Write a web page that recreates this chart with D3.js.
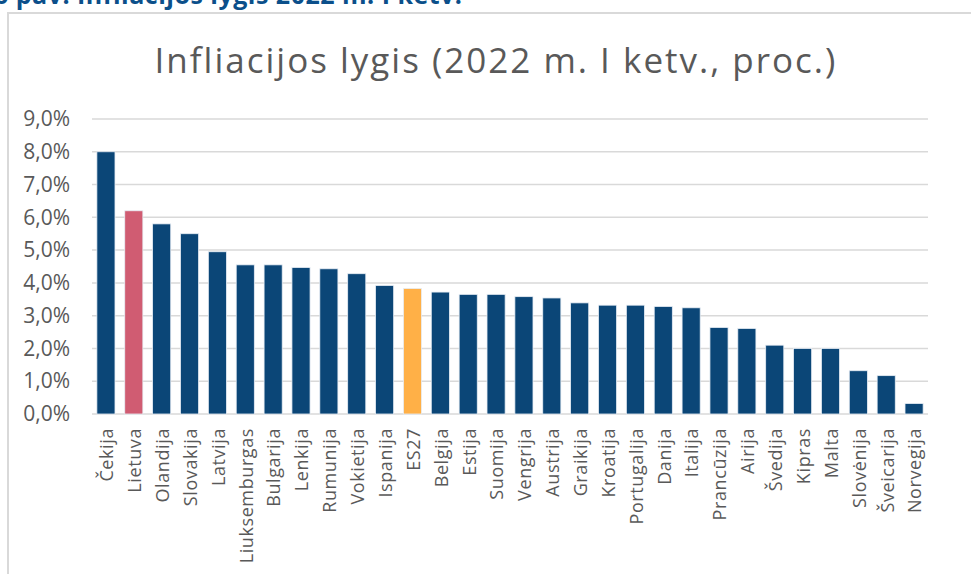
<!DOCTYPE html>
<html>
<head>
<meta charset="utf-8">
<script src="https://cdn.jsdelivr.net/npm/d3@7"></script>
<style>
  body { margin: 0; background: #fff; }
  svg text { font-family: "Open Sans", Lato, sans-serif; }
</style>
</head>
<body>
<svg id="chart" width="971" height="574"></svg>
<script>
// data
const countries = ["Čekija", "Lietuva", "Olandija", "Slovakija", "Latvija", "Liuksemburgas", "Bulgarija",
    "Lenkija", "Rumunija", "Vokietija", "Ispanija", "ES27", "Belgija", "Estija", "Suomija", "Vengrija",
    "Austrija", "Graikija", "Kroatija", "Portugalija", "Danija", "Italija", "Prancūzija", "Airija",
    "Švedija", "Kipras", "Malta", "Slovėnija", "Šveicarija", "Norvegija"];
const inflation = [8.0, 6.2, 5.8, 5.5, 4.95, 4.55, 4.55, 4.47, 4.43, 4.28, 3.92, 3.83, 3.72, 3.65, 3.65,
    3.58, 3.54, 3.39, 3.32, 3.32, 3.28, 3.24, 2.64, 2.61, 2.1, 2.0, 2.0, 1.32, 1.17, 0.32];
const yTicks = [0, 1, 2, 3, 4, 5, 6, 7, 8, 9];
const highlight = { "Lietuva": "#d05c72", "ES27": "#ffb047" };

const svg = d3.select("#chart");

// cropped caption above the chart box
svg.append("text")
    .attr("x", -6)
    .attr("y", 4)
    .attr("fill", "#0b4f8a")
    .style("font-size", "25px")
    .style("font-weight", "bold")
    .style("letter-spacing", "0.5px")
    .text("6 pav. Infliacijos lygis 2022 m. I ketv.");

// chart frame
svg.append("rect")
    .attr("x", 8).attr("y", 13)
    .attr("width", 1000).attr("height", 600)
    .attr("fill", "none")
    .attr("stroke", "#d9d9d9")
    .attr("stroke-width", 2);

svg.append("text")
    .attr("x", 496)
    .attr("y", 73)
    .attr("text-anchor", "middle")
    .attr("fill", "#595959")
    .style("font-size", "35px")
    .style("letter-spacing", "2px")
    .text("Infliacijos lygis (2022 m. I ketv., proc.)");

const margin = { left: 92, right: 43, top: 119, bottom: 160 };
const width = 971 - margin.left - margin.right;
const height = 574 - margin.top - margin.bottom;

const g = svg.append("g").attr("transform", `translate(${margin.left},${margin.top})`);

const x = d3.scaleBand().domain(countries).range([0, width]).paddingInner(0.35).paddingOuter(0.175);
const y = d3.scaleLinear().domain([0, 9]).range([height, 0]);

// gridlines
g.selectAll(".grid")
    .data(yTicks)
    .enter().append("line")
    .attr("x1", 0).attr("x2", width)
    .attr("y1", d => y(d)).attr("y2", d => y(d))
    .attr("stroke", "#d9d9d9")
    .attr("stroke-width", 1.5);

// y axis labels
const yAxis = g.append("g")
    .call(d3.axisLeft(y).tickValues(yTicks).tickSize(0).tickPadding(22)
        .tickFormat(d => d.toFixed(1).replace(".", ",") + "%"));
yAxis.select(".domain").remove();
yAxis.selectAll("text")
    .attr("fill", "#595959")
    .style("font-size", "21px");

// bars
g.selectAll(".bar")
    .data(countries)
    .enter().append("rect")
    .attr("x", d => x(d))
    .attr("y", (d, i) => y(inflation[i]))
    .attr("width", x.bandwidth())
    .attr("height", (d, i) => height - y(inflation[i]))
    .attr("fill", d => highlight[d] || "#0b4677")
    .attr("stroke", "#e8eef5")
    .attr("stroke-width", 0.8);

// category labels
const xAxis = g.append("g")
    .attr("transform", `translate(0,${height})`)
    .call(d3.axisBottom(x).tickSize(0).tickPadding(0));
xAxis.select(".domain").remove();
xAxis.selectAll("text")
    .attr("transform", "rotate(-90)")
    .attr("x", -14)
    .attr("y", 1)
    .attr("dy", "0.35em")
    .attr("text-anchor", "end")
    .attr("fill", "#595959")
    .style("font-size", "18px")
    .style("letter-spacing", "0.6px");
</script>
</body>
</html>
